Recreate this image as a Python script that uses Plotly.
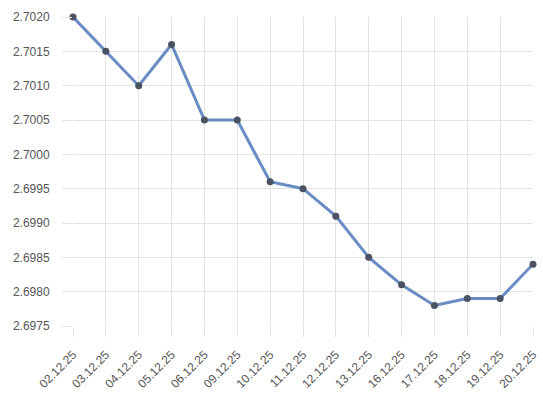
import plotly.graph_objects as go

dates = ["02.12.25", "03.12.25", "04.12.25", "05.12.25", "06.12.25", "09.12.25", "10.12.25",
         "11.12.25", "12.12.25", "13.12.25", "16.12.25", "17.12.25", "18.12.25", "19.12.25", "20.12.25"]
values = [2.7020, 2.7015, 2.7010, 2.7016, 2.7005, 2.7005, 2.6996, 2.6995, 2.6991, 2.6985,
          2.6981, 2.6978, 2.6979, 2.6979, 2.6984]
y_ticks = [2.6975, 2.6980, 2.6985, 2.6990, 2.6995, 2.7000, 2.7005, 2.7010, 2.7015, 2.7020]

fig = go.Figure(go.Scatter(
    x=list(range(len(dates))), y=values, mode="lines+markers",
    line=dict(color="#6a8cc4", width=3),
    marker=dict(color="#4b5262", size=7),
    cliponaxis=False,
    hoverinfo="skip",
))

grid = "#e3e3e3"
fig.update_layout(
    width=543, height=397,
    margin=dict(l=73, r=10, t=17, b=71),
    paper_bgcolor="white", plot_bgcolor="white",
    showlegend=False,
    font=dict(family="Liberation Sans, Arial, sans-serif", size=12, color="#555555"),
    xaxis=dict(
        range=[0, len(dates) - 1], tickmode="array",
        tickvals=list(range(len(dates))), ticktext=dates,
        tickangle=-45, showgrid=True, gridcolor=grid, gridwidth=1,
        ticks="outside", ticklen=10, tickcolor=grid, zeroline=False, showline=False,
        ticklabelstandoff=6, automargin=False,
    ),
    yaxis=dict(
        range=[2.6975, 2.7020], tickmode="array", tickvals=y_ticks,
        ticktext=[f"{v:.4f}" for v in y_ticks],
        showgrid=True, gridcolor=grid, gridwidth=1,
        ticks="outside", ticklen=10, tickcolor=grid, zeroline=False, showline=False,
        ticklabelstandoff=10, automargin=False,
    ),
)
fig.write_html("out.html")
